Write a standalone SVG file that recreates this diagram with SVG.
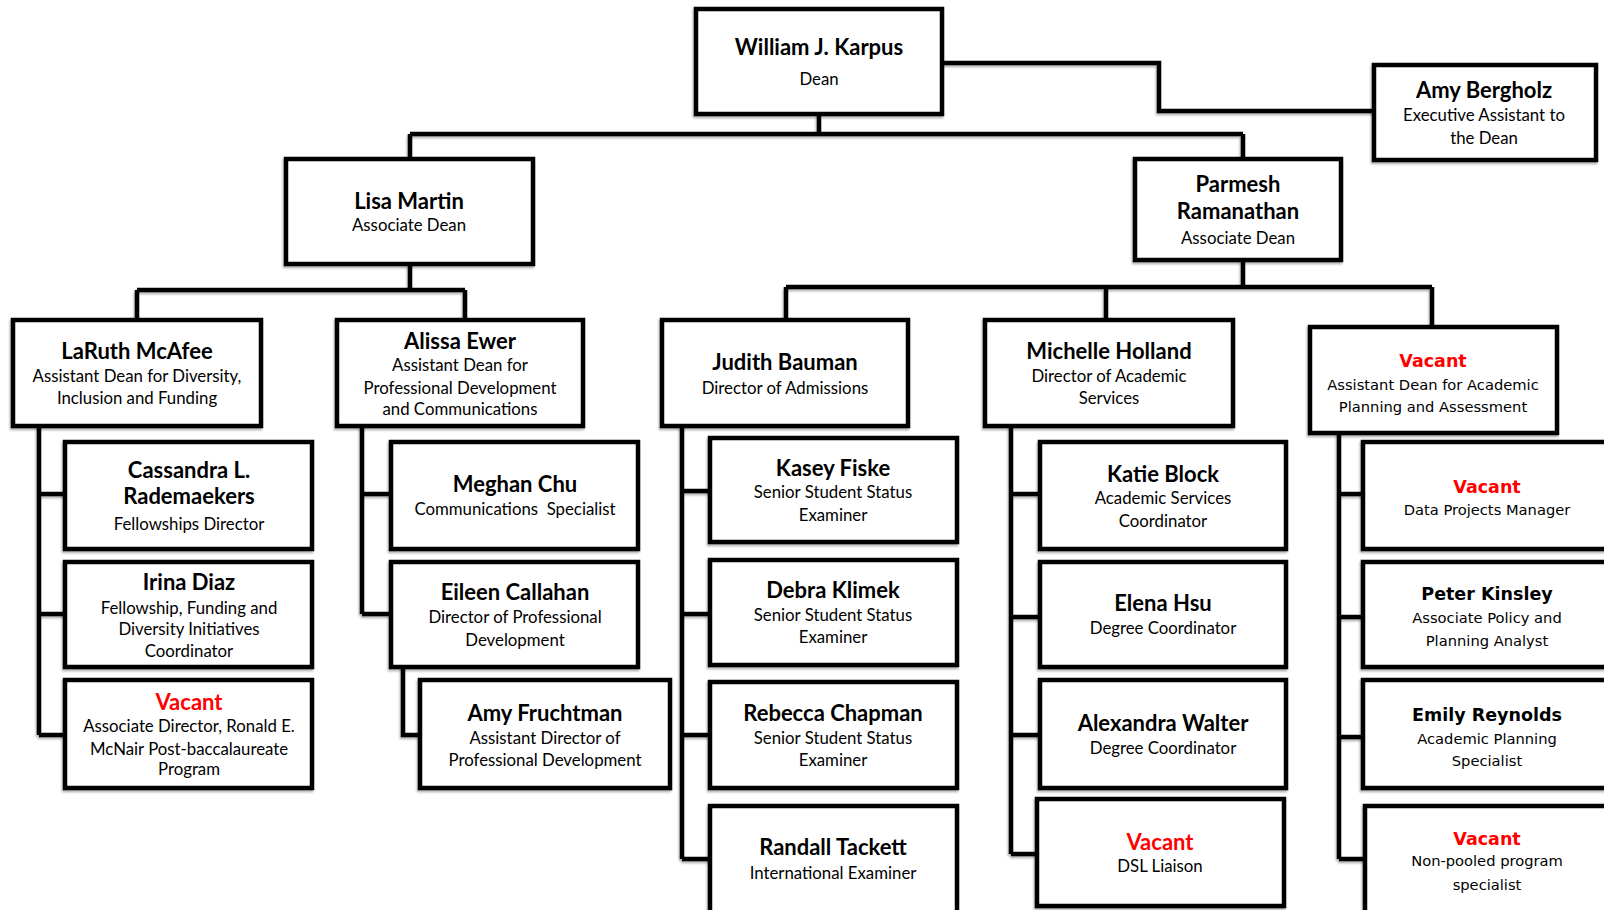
<svg xmlns="http://www.w3.org/2000/svg" width="1604" height="910" viewBox="0 0 1604 910">
<defs>
<filter id="sh" x="-5%" y="-5%" width="110%" height="115%"><feDropShadow dx="-1" dy="2" stdDeviation="1.2" flood-color="#000" flood-opacity="0.3"/></filter>
</defs>
<style>
.box{fill:#fff;stroke:#000;stroke-width:4.5;filter:url(#sh)}
.c path{fill:none;stroke:#000;stroke-width:4.5;stroke-linejoin:miter}
.c{filter:url(#sh)}
text{text-anchor:middle;font-family:Lato,"Liberation Sans",sans-serif;fill:#000}
.n{font-size:22px;font-weight:700}
.t{font-size:16.8px}
.v{fill:#f00}
.w .n{font-family:"DejaVu Sans",Verdana,sans-serif;font-size:17.5px}
.w .t{font-family:"DejaVu Sans",Verdana,sans-serif;font-size:14.7px}
</style>
<rect width="1604" height="910" fill="#fff"/>
<g class="c">
<path d="M942,63 H1159 V111 H1374"/>
<path d="M819,114 V134 M410,134 H1243 M410,134 V159 M1243,134 V159"/>
<path d="M410,264 V290 M137,290 H465 M137,290 V320 M465,290 V320"/>
<path d="M1243,260 V287 M786,287 H1432 M786,287 V320 M1106,287 V320 M1432,287 V327"/>
<path d="M39,426 V735 M39,494 H65 M39,614 H65 M39,735 H65"/>
<path d="M362,426 V614 M362,494 H391 M362,614 H391"/>
<path d="M403,667 V735 H420"/>
<path d="M682,426 V859 M682,491 H710 M682,614 H710 M682,735 H710 M682,859 H710"/>
<path d="M1011,426 V854 M1011,494 H1040 M1011,617 H1040 M1011,735 H1040 M1011,854 H1037"/>
<path d="M1339,433 V859 M1339,494 H1363 M1339,617 H1363 M1339,737 H1363 M1339,859 H1365"/>
</g>
<g id="dean"><rect class="box" x="696" y="9" width="246" height="105"/><text class="n" x="819" y="55">William J. Karpus</text><text class="t" x="819" y="85">Dean</text></g>
<g id="bergholz"><rect class="box" x="1374" y="65" width="222" height="95"/><text class="n" x="1484" y="98">Amy Bergholz</text><text class="t" x="1484" y="121">Executive Assistant to</text><text class="t" x="1484" y="144">the Dean</text></g>
<g id="martin"><rect class="box" x="286" y="159" width="247" height="105"/><text class="n" x="409" y="209">Lisa Martin</text><text class="t" x="409" y="231">Associate Dean</text></g>
<g id="ramanathan"><rect class="box" x="1135" y="159" width="206" height="101"/><text class="n" x="1238" y="192">Parmesh</text><text class="n" x="1238" y="219">Ramanathan</text><text class="t" x="1238" y="244">Associate Dean</text></g>
<g id="mcafee"><rect class="box" x="13" y="320" width="248" height="106"/><text class="n" x="137" y="359">LaRuth McAfee</text><text class="t" x="137" y="382">Assistant Dean for Diversity,</text><text class="t" x="137" y="404">Inclusion and Funding</text></g>
<g id="ewer"><rect class="box" x="337" y="320" width="246" height="106"/><text class="n" x="460" y="349">Alissa Ewer</text><text class="t" x="460" y="371">Assistant Dean for</text><text class="t" x="460" y="394">Professional Development</text><text class="t" x="460" y="415">and Communications</text></g>
<g id="bauman"><rect class="box" x="662" y="320" width="246" height="106"/><text class="n" x="785" y="370">Judith Bauman</text><text class="t" x="785" y="394">Director of Admissions</text></g>
<g id="holland"><rect class="box" x="985" y="320" width="248" height="106"/><text class="n" x="1109" y="359">Michelle Holland</text><text class="t" x="1109" y="382">Director of Academic</text><text class="t" x="1109" y="404">Services</text></g>
<g id="vacant-ad" class="w"><rect class="box" x="1310" y="327" width="247" height="106"/><text class="n v" x="1433" y="367">Vacant</text><text class="t" x="1433" y="390">Assistant Dean for Academic</text><text class="t" x="1433" y="412">Planning and Assessment</text></g>
<g id="rademaekers"><rect class="box" x="65" y="442" width="247" height="107"/><text class="n" x="189" y="478">Cassandra L.</text><text class="n" x="189" y="504">Rademaekers</text><text class="t" x="189" y="530">Fellowships Director</text></g>
<g id="diaz"><rect class="box" x="65" y="562" width="247" height="105"/><text class="n" x="189" y="590">Irina Diaz</text><text class="t" x="189" y="614">Fellowship, Funding and</text><text class="t" x="189" y="635">Diversity Initiatives</text><text class="t" x="189" y="657">Coordinator</text></g>
<g id="vacant-mcnair"><rect class="box" x="65" y="680" width="247" height="108"/><text class="n v" x="189" y="710">Vacant</text><text class="t" x="189" y="732">Associate Director, Ronald E.</text><text class="t" x="189" y="755">McNair Post-baccalaureate</text><text class="t" x="189" y="775">Program</text></g>
<g id="chu"><rect class="box" x="391" y="442" width="247" height="107"/><text class="n" x="515" y="492">Meghan Chu</text><text class="t" x="515" y="515" xml:space="preserve">Communications  Specialist</text></g>
<g id="callahan"><rect class="box" x="391" y="562" width="247" height="105"/><text class="n" x="515" y="600">Eileen Callahan</text><text class="t" x="515" y="623">Director of Professional</text><text class="t" x="515" y="646">Development</text></g>
<g id="fruchtman"><rect class="box" x="420" y="680" width="250" height="108"/><text class="n" x="545" y="721">Amy Fruchtman</text><text class="t" x="545" y="744">Assistant Director of</text><text class="t" x="545" y="766">Professional Development</text></g>
<g id="fiske"><rect class="box" x="710" y="438" width="247" height="104"/><text class="n" x="833" y="476">Kasey Fiske</text><text class="t" x="833" y="498">Senior Student Status</text><text class="t" x="833" y="521">Examiner</text></g>
<g id="klimek"><rect class="box" x="710" y="560" width="247" height="105"/><text class="n" x="833" y="598">Debra Klimek</text><text class="t" x="833" y="621">Senior Student Status</text><text class="t" x="833" y="643">Examiner</text></g>
<g id="chapman"><rect class="box" x="710" y="682" width="247" height="106"/><text class="n" x="833" y="721">Rebecca Chapman</text><text class="t" x="833" y="744">Senior Student Status</text><text class="t" x="833" y="766">Examiner</text></g>
<g id="tackett"><rect class="box" x="710" y="806" width="247" height="110"/><text class="n" x="833" y="855">Randall Tackett</text><text class="t" x="833" y="879">International Examiner</text></g>
<g id="block"><rect class="box" x="1040" y="442" width="246" height="107"/><text class="n" x="1163" y="482">Katie Block</text><text class="t" x="1163" y="504">Academic Services</text><text class="t" x="1163" y="527">Coordinator</text></g>
<g id="hsu"><rect class="box" x="1040" y="562" width="246" height="105"/><text class="n" x="1163" y="611">Elena Hsu</text><text class="t" x="1163" y="634">Degree Coordinator</text></g>
<g id="walter"><rect class="box" x="1040" y="680" width="246" height="108"/><text class="n" x="1163" y="731">Alexandra Walter</text><text class="t" x="1163" y="754">Degree Coordinator</text></g>
<g id="vacant-dsl"><rect class="box" x="1037" y="799" width="247" height="107"/><text class="n v" x="1160" y="850">Vacant</text><text class="t" x="1160" y="872">DSL Liaison</text></g>
<g id="vacant-data" class="w"><rect class="box" x="1363" y="442" width="250" height="107"/><text class="n v" x="1487" y="493">Vacant</text><text class="t" x="1487" y="515">Data Projects Manager</text></g>
<g id="kinsley" class="w"><rect class="box" x="1363" y="562" width="250" height="105"/><text class="n" x="1487" y="600">Peter Kinsley</text><text class="t" x="1487" y="623">Associate Policy and</text><text class="t" x="1487" y="646">Planning Analyst</text></g>
<g id="reynolds" class="w"><rect class="box" x="1363" y="680" width="250" height="108"/><text class="n" x="1487" y="721">Emily Reynolds</text><text class="t" x="1487" y="744">Academic Planning</text><text class="t" x="1487" y="766">Specialist</text></g>
<g id="vacant-nonpooled" class="w"><rect class="box" x="1365" y="806" width="250" height="110"/><text class="n v" x="1487" y="845">Vacant</text><text class="t" x="1487" y="866">Non-pooled program</text><text class="t" x="1487" y="890">specialist</text></g>
</svg>
